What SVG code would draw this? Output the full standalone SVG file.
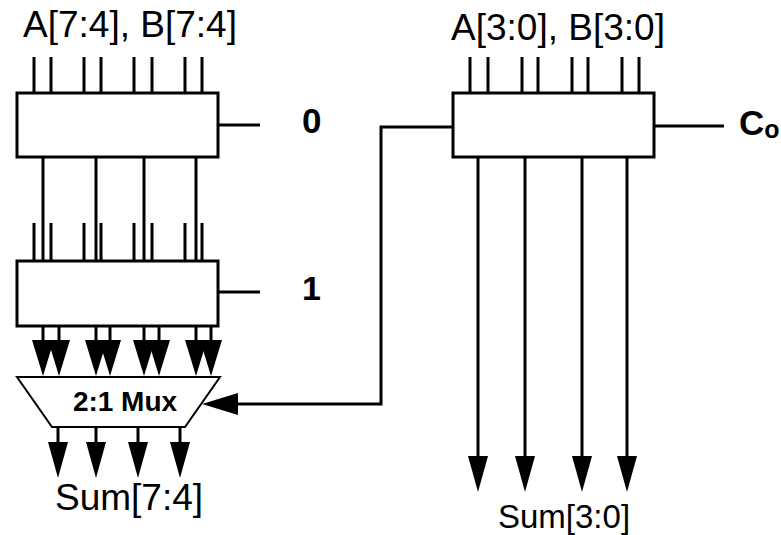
<svg xmlns="http://www.w3.org/2000/svg" width="781" height="535" viewBox="0 0 781 535">
<style>
.box{fill:#fff;stroke:#000;stroke-width:3}
.w{fill:none;stroke:#000;stroke-width:3}
.mux{fill:#fff;stroke:#000;stroke-width:2}
.t{font-family:"Liberation Sans",Arial,sans-serif;fill:#000}
.b{font-family:"Liberation Sans",Arial,sans-serif;font-weight:bold;fill:#000}
</style>
<defs>
<marker id="ah" markerUnits="userSpaceOnUse" markerWidth="36" markerHeight="22" viewBox="0 -11 36 22" refX="0" refY="0" orient="auto">
<path d="M0,-11 L36,0 L0,11 Z" fill="#000"/>
</marker>
<marker id="ah2" markerUnits="userSpaceOnUse" markerWidth="36" markerHeight="20" viewBox="0 -10 36 20" refX="0" refY="0" orient="auto">
<path d="M0,-10 L36,0 L0,10 Z" fill="#000"/>
</marker>
</defs>
<g id="connectors">
<path class="w" d="M34,57V93M51,57V93M84,57V93M101,57V93M134,57V93M152,57V93M185,57V93M202,57V93"/>
<path class="w" d="M34,223V261M51,223V261M84,223V261M101,223V261M134,223V261M152,223V261M185,223V261M202,223V261"/>
<path class="w" d="M470,57V93M488,57V93M522,57V93M538,57V93M572,57V93M588,57V93M622,57V93M639,57V93"/>
<path class="w" d="M218,125H260M218,292H260M654,126H724"/>
<line class="w" x1="43" y1="157" x2="43" y2="340" marker-end="url(#ah)"/>
<line class="w" x1="96" y1="157" x2="96" y2="340" marker-end="url(#ah)"/>
<line class="w" x1="144" y1="157" x2="144" y2="340" marker-end="url(#ah)"/>
<line class="w" x1="196" y1="157" x2="196" y2="340" marker-end="url(#ah)"/>
<line class="w" x1="59" y1="326" x2="59" y2="340" marker-end="url(#ah)"/>
<line class="w" x1="110" y1="326" x2="110" y2="340" marker-end="url(#ah)"/>
<line class="w" x1="159" y1="326" x2="159" y2="340" marker-end="url(#ah)"/>
<line class="w" x1="211" y1="326" x2="211" y2="340" marker-end="url(#ah)"/>
<line class="w" x1="58" y1="427" x2="58" y2="442" marker-end="url(#ah2)"/>
<line class="w" x1="96" y1="427" x2="96" y2="442" marker-end="url(#ah2)"/>
<line class="w" x1="138" y1="427" x2="138" y2="442" marker-end="url(#ah2)"/>
<line class="w" x1="180" y1="427" x2="180" y2="442" marker-end="url(#ah2)"/>
<line class="w" x1="478" y1="157" x2="478" y2="456" marker-end="url(#ah2)"/>
<line class="w" x1="525" y1="157" x2="525" y2="456" marker-end="url(#ah2)"/>
<line class="w" x1="582" y1="157" x2="582" y2="456" marker-end="url(#ah2)"/>
<line class="w" x1="627" y1="157" x2="627" y2="456" marker-end="url(#ah2)"/>
<polyline class="w" points="453,127 381,127 381,404 238,404" marker-end="url(#ah)"/>
</g>
<g id="adder0">
<rect class="box" x="17" y="93" width="201" height="64"/>
</g>
<g id="adder1">
<rect class="box" x="17" y="261" width="201" height="65"/>
</g>
<g id="adderLow">
<rect class="box" x="453" y="93" width="201" height="64"/>
</g>
<g id="mux">
<polygon class="mux" points="17,377 220,377 185,427 52,427"/>
<text class="b" x="125" y="411" font-size="28" text-anchor="middle">2:1 Mux</text>
</g>
<g id="labels">
<text class="t" x="23" y="37" font-size="37">A[7:4], B[7:4]</text>
<text class="t" x="451" y="40" font-size="37">A[3:0], B[3:0]</text>
<text class="t" x="55" y="510" font-size="37">Sum[7:4]</text>
<text class="t" x="498" y="528" font-size="33">Sum[3:0]</text>
<text class="b" x="302" y="133" font-size="35">0</text>
<text class="b" x="302" y="300" font-size="34">1</text>
<text class="b" x="739" y="135" font-size="35">C<tspan font-size="25" dy="3">o</tspan></text>
</g>
</svg>
